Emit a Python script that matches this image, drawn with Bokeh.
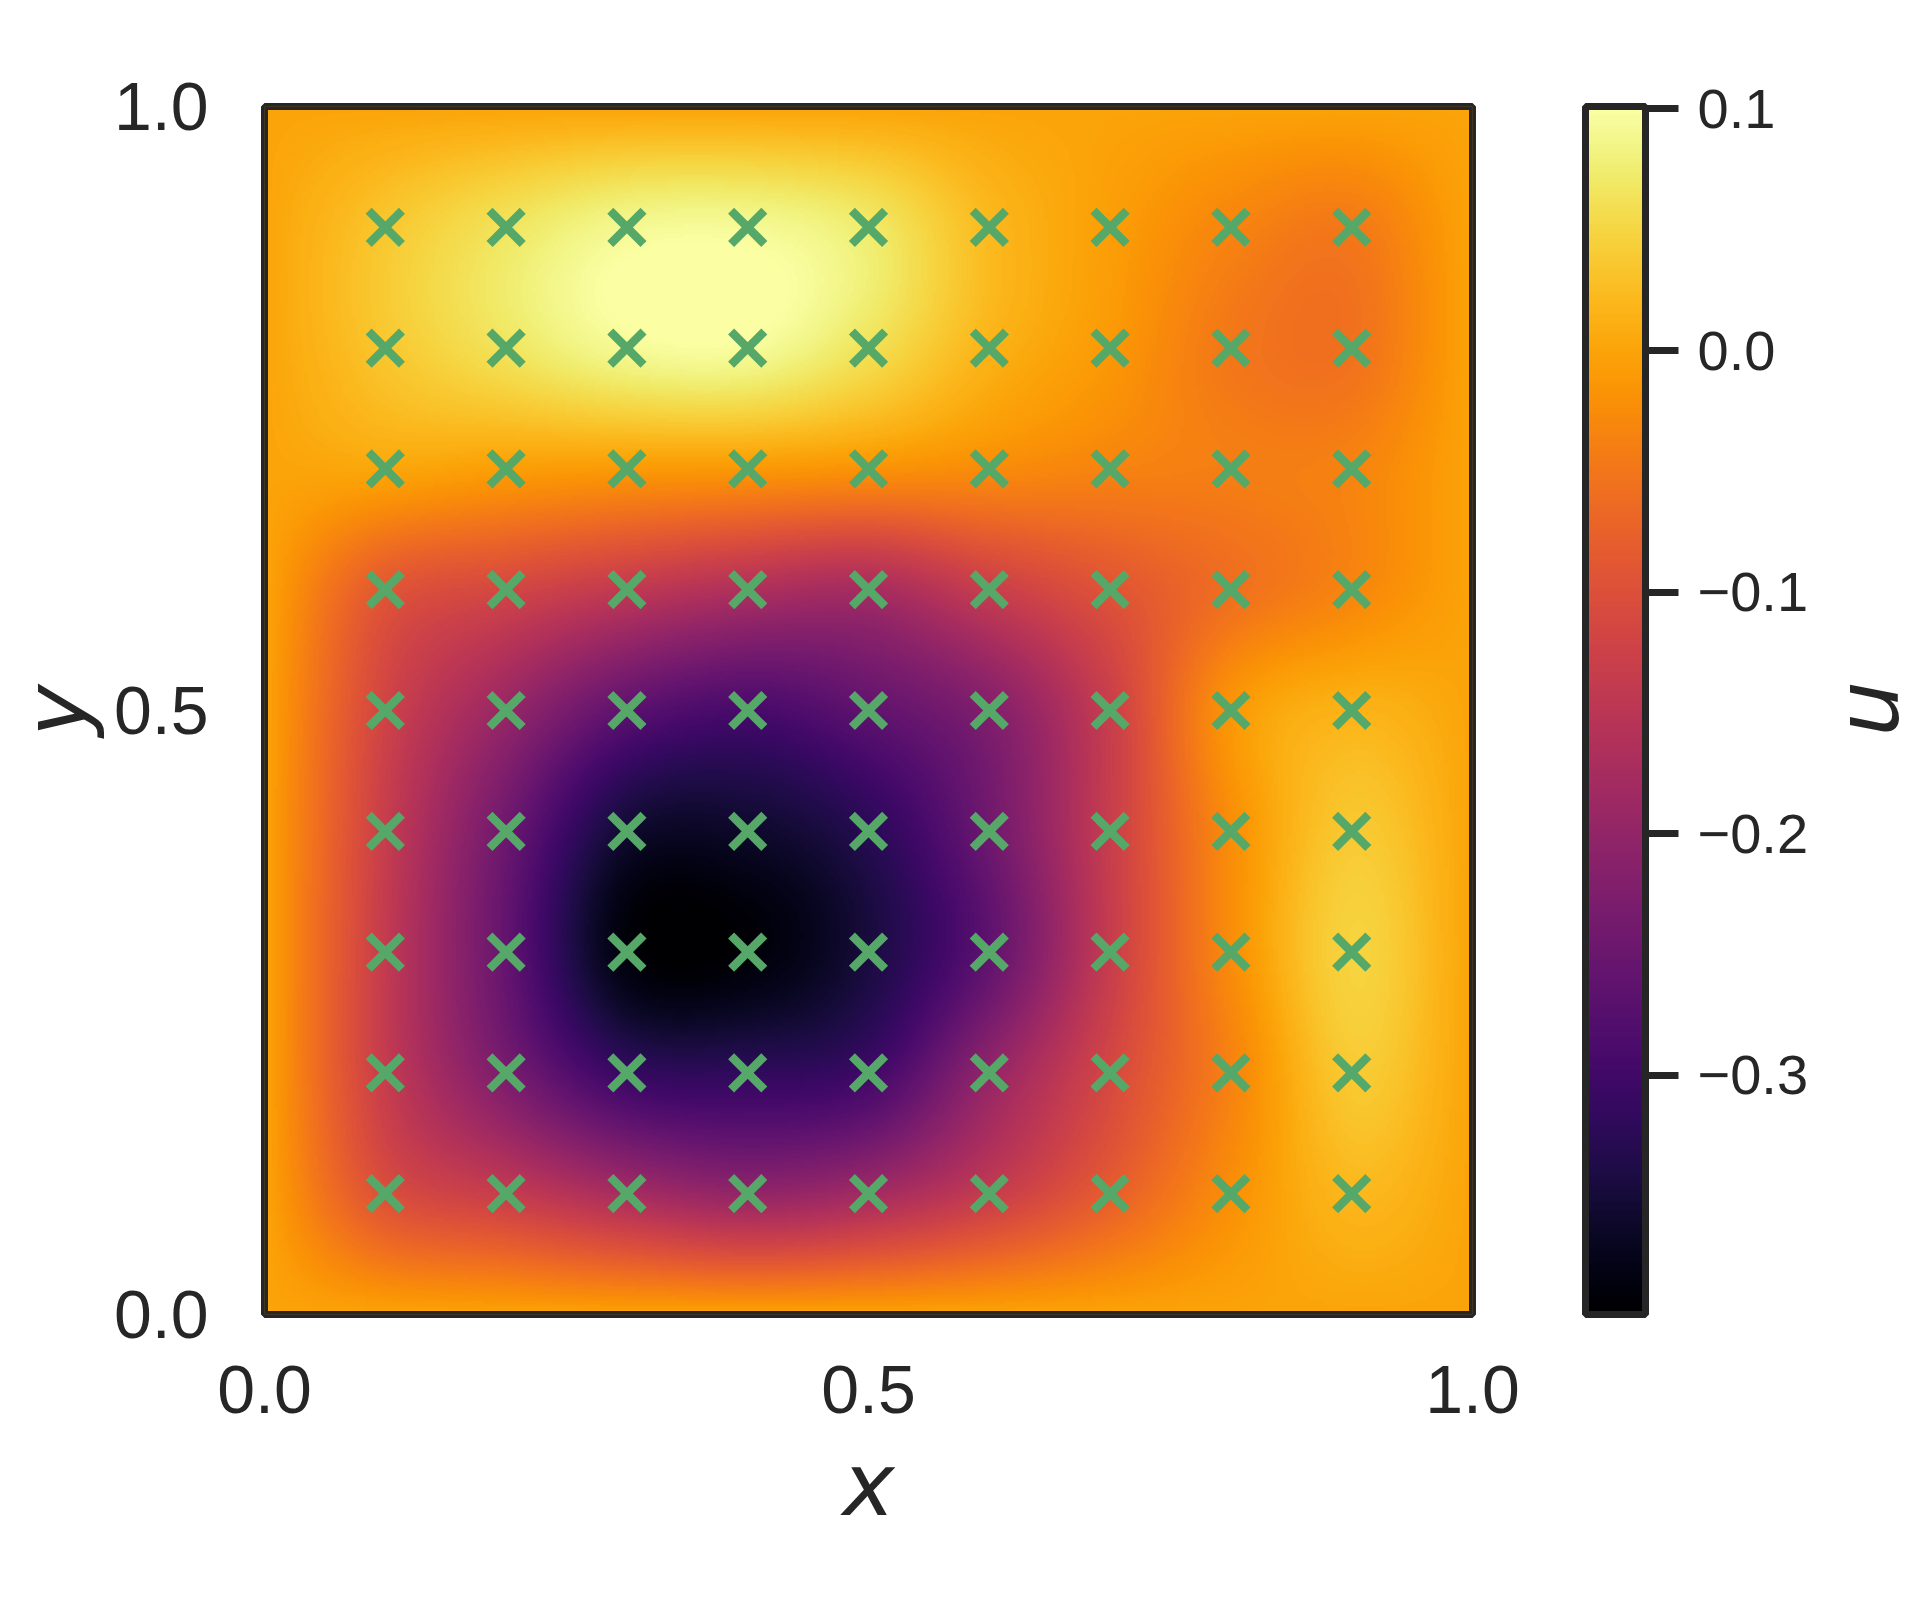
import math
import numpy as np
from bokeh.plotting import figure
from bokeh.models import (LinearColorMapper, ColorBar, FixedTicker, CustomJSTickFormatter,
                          Range1d, LinearAxis)
from bokeh.palettes import Inferno256
from bokeh.embed import file_html
from bokeh.resources import INLINE

# ---------------- data ----------------
grid_x = [0.0, 0.1, 0.2, 0.3, 0.4, 0.5, 0.6, 0.7, 0.8, 0.9, 1.0]
grid_y = [0.0, 0.1, 0.2, 0.3, 0.4, 0.5, 0.6, 0.7, 0.8, 0.9, 1.0]

# u(x, y) read at the grid nodes; one list per row, from y = 0.0 up to y = 1.0
u_y00 = [0, 0, 0, 0, 0, 0, 0, 0, 0, 0, 0]
u_y01 = [0, -0.100, -0.135, -0.175, -0.199, -0.180, -0.135, -0.080, -0.022, 0.020, 0]
u_y02 = [0, -0.135, -0.230, -0.310, -0.318, -0.300, -0.200, -0.113, -0.036, 0.038, 0]
u_y03 = [0, -0.138, -0.258, -0.388, -0.392, -0.345, -0.262, -0.134, -0.025, 0.047, 0]
u_y04 = [0, -0.133, -0.245, -0.355, -0.360, -0.326, -0.244, -0.132, -0.024, 0.037, 0]
u_y05 = [0, -0.120, -0.194, -0.265, -0.290, -0.262, -0.220, -0.130, -0.015, 0.015, 0]
u_y06 = [0, -0.089, -0.115, -0.142, -0.165, -0.175, -0.132, -0.094, -0.058, -0.032, 0]
u_y07 = [0, 0.002, -0.006, -0.010, -0.012, -0.018, -0.026, -0.035, -0.040, -0.035, 0]
u_y08 = [0, 0.035, 0.065, 0.092, 0.095, 0.062, 0.016, -0.012, -0.048, -0.055, 0]
u_y09 = [0, 0.035, 0.065, 0.090, 0.092, 0.072, 0.022, -0.006, -0.033, -0.046, 0]
u_y10 = [0, 0, 0, 0, 0, 0, 0, 0, 0, 0, 0]

# collocation points (green crosses)
marker_x = [0.1, 0.2, 0.3, 0.4, 0.5, 0.6, 0.7, 0.8, 0.9]
marker_y = [0.1, 0.2, 0.3, 0.4, 0.5, 0.6, 0.7, 0.8, 0.9]

u_min, u_max = -0.399, 0.101
cbar_ticks = [-0.3, -0.2, -0.1, 0.0, 0.1]
axis_ticks = [0.0, 0.5, 1.0]
colorbar_label = "u"

# ---------------- smooth shading of the read grid (bicubic, like imshow) -----
U = np.array([u_y00, u_y01, u_y02, u_y03, u_y04, u_y05, u_y06, u_y07,
              u_y08, u_y09, u_y10], dtype=float)
Up = np.pad(U, 1, mode="reflect", reflect_type="odd")


def cr_weights(n_nodes, n_out):
    t = (np.arange(n_out) + 0.5) / n_out * (n_nodes - 1)
    i = np.clip(np.floor(t).astype(int), 0, n_nodes - 2)
    f = t - i
    w = [(-f**3 + 2 * f**2 - f) / 2,
         (3 * f**3 - 5 * f**2 + 2) / 2,
         (-3 * f**3 + 4 * f**2 + f) / 2,
         (f**3 - f**2) / 2]
    W = np.zeros((n_out, n_nodes + 2))
    rows = np.arange(n_out)
    for k in range(4):
        W[rows, i + k] += w[k]
    return W


N = 480
U_img = cr_weights(len(grid_y), N) @ Up @ cr_weights(len(grid_x), N).T

# ---------------- figure ----------------
TEXT = "#262626"
mapper = LinearColorMapper(palette=Inferno256, low=u_min, high=u_max)

p = figure(frame_width=1208, frame_height=1208,
           x_range=Range1d(grid_x[0], grid_x[-1]), y_range=Range1d(grid_y[0], grid_y[-1]),
           min_border_left=257, min_border_right=0, min_border_top=106,
           min_border_bottom=225,
           output_backend="svg", toolbar_location=None)
p.background_fill_color = "white"
p.border_fill_color = "white"
p.xgrid.visible = False
p.ygrid.visible = False
p.outline_line_color = TEXT
p.outline_line_width = 7

p.image(image=[U_img], x=grid_x[0], y=grid_y[0], dw=grid_x[-1] - grid_x[0],
        dh=grid_y[-1] - grid_y[0], color_mapper=mapper)
# inner half of the frame line (the outline draws the outer half)
p.quad(left=[grid_x[0]], right=[grid_x[-1]], bottom=[grid_y[0]], top=[grid_y[-1]],
       fill_color=None, line_color=TEXT, line_width=7)

mx, my = np.meshgrid(marker_x, marker_y)
p.scatter(x=mx.ravel(), y=my.ravel(), marker="x", size=47,
          line_color="#55a868", line_width=8.5)

fmt_axis = CustomJSTickFormatter(code="return tick.toFixed(1);")
for ax in (p.xaxis[0], p.yaxis[0]):
    ax.ticker = FixedTicker(ticks=axis_ticks)
    ax.formatter = fmt_axis
    ax.axis_line_color = None
    ax.major_tick_line_color = None
    ax.minor_tick_line_color = None
    ax.major_tick_out = 0
    ax.major_tick_in = 0
    ax.minor_tick_out = 0
    ax.major_label_text_font = "Liberation Sans"
    ax.major_label_text_font_size = "68px"
    ax.major_label_text_color = TEXT
    ax.axis_label_text_font = "DejaVu Sans"
    ax.axis_label_text_font_style = "italic"
    ax.axis_label_text_font_size = "88px"
    ax.axis_label_text_color = TEXT

p.xaxis.axis_label = "x"
p.yaxis.axis_label = "y"
p.xaxis.major_label_standoff = 51
p.xaxis.axis_label_standoff = 17
p.yaxis.major_label_standoff = 56
p.yaxis.axis_label_standoff = 4

# empty gap between the heat map and the colour bar (invisible axis)
gap = LinearAxis(ticker=FixedTicker(ticks=[]), axis_line_color=None,
                 major_tick_line_color=None, minor_tick_line_color=None,
                 major_tick_out=0, major_tick_in=0, minor_tick_out=0,
                 axis_label="|", axis_label_text_alpha=0,
                 axis_label_text_font_size="20px", axis_label_standoff=88)
p.add_layout(gap, "right")

cb = ColorBar(color_mapper=mapper,
              ticker=FixedTicker(ticks=cbar_ticks),
              formatter=CustomJSTickFormatter(
                  code="return (tick < -1e-9 ? '\\u2212' : '') + Math.abs(tick).toFixed(1);"),
              width=60, height=1208, padding=0, margin=0,
              bar_line_color=TEXT, bar_line_width=7,
              major_tick_out=33, major_tick_in=0,
              major_tick_line_color=TEXT, major_tick_line_width=7,
              minor_tick_line_color=None,
              label_standoff=19,
              major_label_text_font="Liberation Sans",
              major_label_text_font_size="56px",
              major_label_text_color=TEXT,
              border_line_color=None, background_fill_color=None)
p.add_layout(cb, "right")

# colour bar label, written bottom-to-top like the reference
u_axis = LinearAxis(ticker=FixedTicker(ticks=[0.4785]),
                    major_label_overrides={0.4785: colorbar_label},
                    major_label_orientation=math.pi / 2,
                    axis_line_color=None, major_tick_line_color=None,
                    minor_tick_line_color=None, major_tick_out=0, major_tick_in=0,
                    minor_tick_out=0, major_label_standoff=56,
                    major_label_text_font="DejaVu Sans",
                    major_label_text_font_style="italic",
                    major_label_text_font_size="88px",
                    major_label_text_color=TEXT)
p.add_layout(u_axis, "right")

open("out.html", "w").write(file_html(p, INLINE))
